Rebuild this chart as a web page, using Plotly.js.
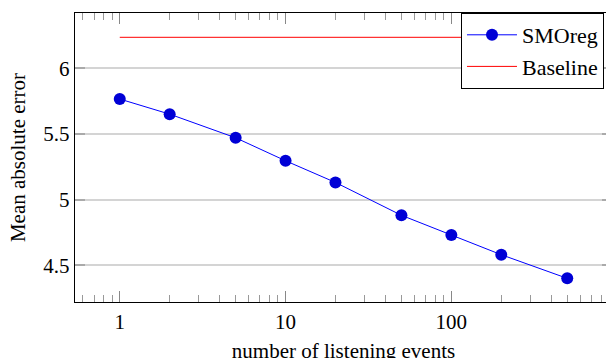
<!DOCTYPE html>
<html>
<head>
<meta charset="utf-8">
<script src="https://cdn.plot.ly/plotly-3.0.1.min.js"></script>
<style>
html, body { margin: 0; padding: 0; overflow: hidden; background: #fff; }
#chart { width: 620px; height: 368px; }
</style>
</head>
<body>
<div id="chart"></div>
<script>
const events = [1, 2, 5, 10, 20, 50, 100, 200, 500];
const smoregMAE = [5.765, 5.65, 5.47, 5.295, 5.13, 4.88, 4.73, 4.58, 4.40];
const baselineX = [1, 500];
const baselineMAE = [6.235, 6.235];
const xTickVals = [1, 10, 100];
const xTickText = ['1', '10', '100'];
const yTickVals = [4.5, 5, 5.5, 6];
const yTickText = ['4.5', '5', '5.5', '6'];

const serif = 'Liberation Serif';

const traces = [
  {
    x: events, y: smoregMAE, name: 'SMOreg', type: 'scatter', mode: 'lines+markers',
    line: { color: '#0000ff', width: 1 },
    marker: { color: '#0000d6', size: 12, symbol: 'circle' }
  },
  {
    x: baselineX, y: baselineMAE, name: 'Baseline', type: 'scatter', mode: 'lines',
    line: { color: '#ff0000', width: 1 }
  }
];

const layout = {
  width: 620, height: 368,
  margin: { l: 75, r: 8, t: 13, b: 66 },
  paper_bgcolor: '#fff', plot_bgcolor: '#fff',
  font: { family: serif, size: 21, color: '#000' },
  showlegend: true,
  legend: {
    x: 0.7188, xanchor: 'left', y: 1, yanchor: 'top',
    bordercolor: '#000', borderwidth: 1, bgcolor: '#fff',
    font: { family: serif, size: 22, color: '#000' },
    itemwidth: 50, tracegroupgap: 0
  },
  xaxis: {
    type: 'log', range: [-0.27, 2.969],
    tickvals: xTickVals, ticktext: xTickText,
    ticks: 'inside', ticklen: 11, tickcolor: '#888', tickwidth: 1,
    showgrid: false, zeroline: false,
    showline: true, linecolor: '#000', linewidth: 1.3, mirror: 'allticks',
    minor: { dtick: 'D1', ticks: 'inside', ticklen: 7, tickcolor: '#999', tickwidth: 1, showgrid: false },
    tickfont: { family: serif, size: 21, color: '#000' },
    title: { text: 'number of listening events', font: { family: serif, size: 21, color: '#000' }, standoff: 10 }
  },
  yaxis: {
    range: [4.22, 6.42],
    tickvals: yTickVals, ticktext: yTickText,
    ticks: 'inside', ticklen: 10, tickcolor: '#aaa', tickwidth: 2,
    showgrid: true, gridcolor: '#d4d4d4', gridwidth: 2, zeroline: false,
    showline: true, linecolor: '#000', linewidth: 1.3, mirror: 'allticks',
    tickfont: { family: serif, size: 21, color: '#000' },
    title: { text: 'Mean absolute error', font: { family: serif, size: 21, color: '#000' }, standoff: 12 }
  }
};

Plotly.newPlot('chart', traces, layout, { displayModeBar: false, staticPlot: true });
</script>
</body>
</html>
